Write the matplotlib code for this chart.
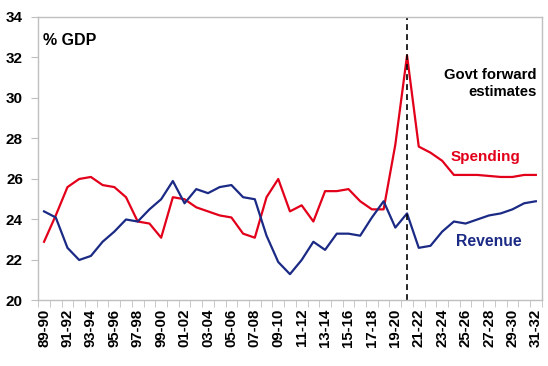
# Australian federal spending vs revenue, % of GDP, with forward estimates
import numpy as np
import matplotlib.pyplot as plt

plt.rcParams['font.family'] = ['Liberation Sans', 'DejaVu Sans']
plt.rcParams['font.weight'] = 'bold'

years = [f"{y % 100:02d}-{(y + 1) % 100:02d}" for y in range(1989, 2032)]

revenue = [24.4, 24.1, 22.6, 22.0, 22.2, 22.9, 23.4, 24.0, 23.9, 24.5,
           25.0, 25.9, 24.8, 25.5, 25.3, 25.6, 25.7, 25.1, 25.0, 23.2,
           21.9, 21.3, 22.0, 22.9, 22.5, 23.3, 23.3, 23.2, 24.1, 24.9,
           23.6, 24.3, 22.6, 22.7, 23.4, 23.9, 23.8, 24.0, 24.2, 24.3,
           24.5, 24.8, 24.9]

spending = [22.9, 24.2, 25.6, 26.0, 26.1, 25.7, 25.6, 25.1, 23.9, 23.8,
            23.1, 25.1, 25.0, 24.6, 24.4, 24.2, 24.1, 23.3, 23.1, 25.1,
            26.0, 24.4, 24.7, 23.9, 25.4, 25.4, 25.5, 24.9, 24.5, 24.5,
            27.7, 32.1, 27.6, 27.3, 26.9, 26.2, 26.2, 26.2, 26.15, 26.1,
            26.1, 26.2, 26.2]

forecast_start = "20-21"

red = '#E2001A'
blue = '#1B2A85'
grey = '#BFBFBF'

fig = plt.figure(figsize=(5.48, 3.66), dpi=100)
ax = fig.add_axes([0.0697, 0.179, 0.9188, 0.7746])

x = np.arange(len(years))
ax.plot(x, spending, color=red, lw=1.6)
ax.plot(x, revenue, color=blue, lw=1.6)

xf = years.index(forecast_start)
ax.axvline(xf, color='black', lw=1.2, ls=(0, (3.5, 2.5)))

ax.set_xlim(-0.5, len(years) - 0.5)
ax.set_ylim(20, 34)
ax.set_yticks(np.arange(20, 35, 2))

ax.set_xticks(x[::2])
ax.set_xticklabels(years[::2], rotation=90)
ax.set_xticks(np.arange(-0.5, len(years), 1), minor=True)
ax.tick_params(axis='x', which='major', length=0, pad=6, labelsize=10.8)
ax.tick_params(axis='x', which='minor', length=5, color=grey)
ax.tick_params(axis='y', length=5, color=grey, labelsize=11, pad=6)

for s in ax.spines.values():
    s.set_color(grey)
    s.set_linewidth(1)

ax.text(-0.1, 32.85, "% GDP", fontsize=11.5, va='center', ha='left')
ax.text(42.05, 30.72, "Govt forward\nestimates", fontsize=10.7, ha='right',
        va='center', multialignment='right', linespacing=1.2)
ax.text(37.7, 27.1, "Spending", color=red, fontsize=11, ha='center', va='center')
ax.text(38.0, 22.9, "Revenue", color=blue, fontsize=11.3, ha='center', va='center')

fig.savefig('out.png', dpi=100)
